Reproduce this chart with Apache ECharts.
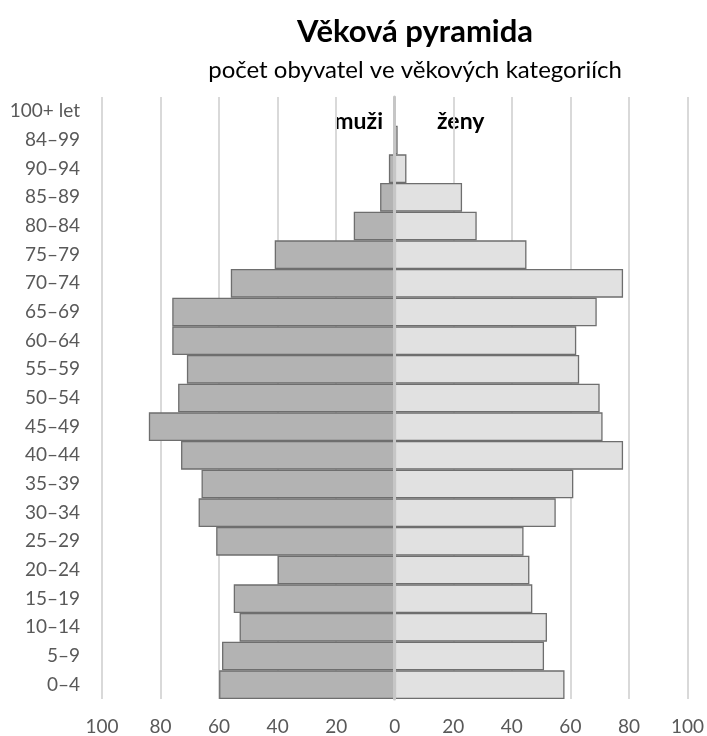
<!DOCTYPE html>
<html>
<head>
<meta charset="utf-8">
<script src="https://cdn.jsdelivr.net/npm/echarts@6/dist/echarts.min.js"></script>
<style>
html,body{margin:0;padding:0;background:#fff;}
#chart{width:707px;height:736px;}
</style>
</head>
<body>
<div id="chart"></div>
<script>
const categories = ['0–4','5–9','10–14','15–19','20–24','25–29','30–34','35–39','40–44','45–49','50–54','55–59','60–64','65–69','70–74','75–79','80–84','85–89','90–94','84–99','100+ let'];
const muzi = [60,59,53,55,40,61,67,66,73,84,74,71,76,76,56,41,14,5,2,0,0];
const zeny = [58,51,52,47,46,44,55,61,78,71,70,63,62,69,78,45,28,23,4,1,0];
const xTicks = [-100,-80,-60,-40,-20,0,20,40,60,80,100];

const font = 'Lato, "Noto Sans", sans-serif';
const chart = echarts.init(document.getElementById('chart'), null, {renderer:'canvas'});
chart.setOption({
  backgroundColor:'#ffffff',
  animation:false,
  title:[
    {text:'Věková pyramida', left:410, top:11, textAlign:'center',
     textStyle:{fontFamily:font, fontSize:31, fontWeight:'bold', color:'#000'}},
    {text:'počet obyvatel ve věkových kategoriích', left:410, top:53, textAlign:'center',
     textStyle:{fontFamily:font, fontSize:24, fontWeight:'normal', color:'#000'}}
  ],
  grid:{left:102, right:18, top:97, bottom:37, containLabel:false},
  xAxis:{
    type:'value', min:xTicks[0], max:xTicks[xTicks.length-1], interval:20,
    axisLine:{show:false}, axisTick:{show:false},
    splitLine:{show:true, lineStyle:{color:'#d9d9d9', width:2}},
    axisLabel:{fontFamily:font, fontSize:19, color:'#595959', margin:18,
      formatter:v=>String(Math.abs(v))}
  },
  yAxis:{
    type:'category', data:categories, z:5,
    axisLine:{show:true, onZero:true, lineStyle:{color:'#c6c6c6', width:3}},
    axisTick:{show:false},
    axisLabel:{fontFamily:font, fontSize:19, color:'#595959', margin:22, padding:[6,0,0,0]}
  },
  graphic:[
    {type:'text', right:707-383, top:110, style:{text:'muži', fontFamily:font, fontSize:23, fontWeight:'bold', fill:'#000', textAlign:'right'}},
    {type:'text', left:437, top:110, style:{text:'ženy', fontFamily:font, fontSize:23, fontWeight:'bold', fill:'#000'}}
  ],
  series:[
    {name:'muži', type:'bar', stack:'p', data:muzi.map(v=>-v), barCategoryGap:0,
     itemStyle:{color:'#b3b3b3', borderColor:'#6e6e6e', borderWidth:1.3}},
    {name:'ženy', type:'bar', stack:'p', data:zeny, barCategoryGap:0,
     itemStyle:{color:'#e1e1e1', borderColor:'#6e6e6e', borderWidth:1.3}}
  ]
});
</script>
</body>
</html>
